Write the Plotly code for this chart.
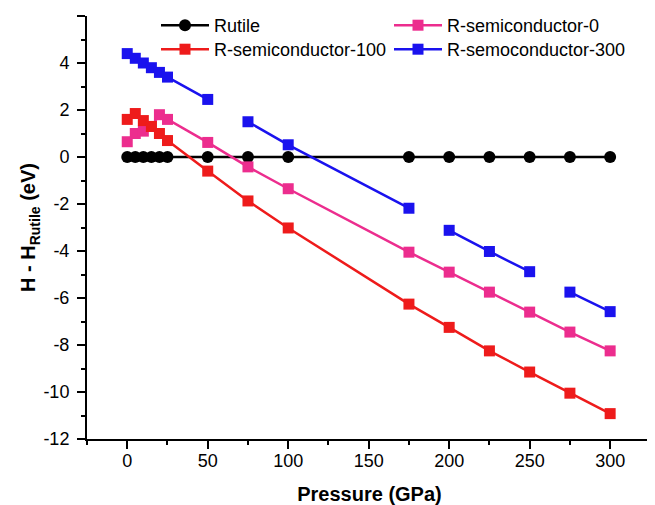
import plotly.graph_objects as go

pressure = [0, 5, 10, 15, 20, 25, 50, 75, 100, 175, 200, 225, 250, 275, 300]

rutile = [0] * 15
semi_0 = [0.65, 1.0, 1.1, 1.3, 1.8, 1.6, 0.62, -0.42, -1.35, -4.05, -4.9, -5.75, -6.6, -7.45, -8.25]
semi_100 = [1.6, 1.85, 1.55, 1.3, 1.0, 0.7, -0.6, -1.87, -3.02, -6.26, -7.25, -8.25, -9.15, -10.05, -10.92]
semo_300 = [4.4, 4.2, 4.0, 3.8, 3.6, 3.4, 2.45, 1.5, 0.52, -2.18, -3.12, -4.02, -4.88, -5.75, -6.58]
# indices after which the blue line is broken
semo_300_breaks = [6, 9, 12]

x_ticks = [0, 50, 100, 150, 200, 250, 300]
y_ticks = [6, 4, 2, 0, -2, -4, -6, -8, -10, -12]
y_tick_labels = [str(v) for v in y_ticks]

# figure offset by the page's 8px body margin
W, H = 647, 497
ML, MR, MT, MB = 79, 3, 8, 66
plot_w = W - ML - MR
plot_h = H - MT - MB

# legend slots: (window x of legend box, window y of row centre)
slots = {
    "legend": (156, 23),
    "legend2": (389, 23),
    "legend3": (156, 47),
    "legend4": (389, 47),
}

series = [
    ("Rutile", rutile, "#000000", "circle", 12, [], "legend"),
    ("R-semiconductor-0", semi_0, "#EC2D8E", "square", 11, [], "legend2"),
    ("R-semiconductor-100", semi_100, "#EE1B1B", "square", 11, [], "legend3"),
    ("R-semoconductor-300", semo_300, "#1A12EE", "square", 11, semo_300_breaks, "legend4"),
]

fig = go.Figure()
for name, ys, color, sym, size, breaks, leg in series:
    lx, ly = [], []
    for i, (xv, yv) in enumerate(zip(pressure, ys)):
        lx.append(xv)
        ly.append(yv)
        if i in breaks:
            lx.append(None)
            ly.append(None)
    fig.add_trace(go.Scatter(
        x=lx, y=ly, mode="lines", line=dict(color=color, width=2.5),
        showlegend=False, hoverinfo="skip", connectgaps=False))
    fig.add_trace(go.Scatter(
        x=pressure, y=ys, mode="markers", name=name,
        marker=dict(symbol=sym, size=size, color=color, line=dict(width=0)),
        showlegend=False))
    # legend entry with line + marker
    fig.add_trace(go.Scatter(
        x=[None], y=[None], mode="lines+markers", name=name, legend=leg,
        line=dict(color=color, width=2.5),
        marker=dict(symbol=sym, size=size, color=color, line=dict(width=0))))

legend_style = dict(orientation="h", xanchor="left", yanchor="top",
                    font=dict(size=18, color="black"), bgcolor="rgba(0,0,0,0)",
                    tracegroupgap=0, itemwidth=48)
legends = {}
for key, (wx, wy) in slots.items():
    fx = wx - 8
    fy = wy - 8
    legends[key] = dict(**legend_style,
                        x=(fx - ML) / plot_w,
                        y=(H - MB - (fy - 16)) / plot_h)

fig.update_layout(
    width=W, height=H,
    margin=dict(l=ML, r=MR, t=MT, b=MB, autoexpand=False),
    paper_bgcolor="white", plot_bgcolor="white",
    font=dict(family="Liberation Sans, Arial, sans-serif", size=18, color="black"),
    **legends,
    xaxis=dict(range=[-25, 326], tickvals=x_ticks, showgrid=False, zeroline=False,
               automargin=False,
               showline=True, linecolor="black", linewidth=2,
               ticks="outside", ticklen=8, tickwidth=2, tickcolor="black",
               ticklabelstandoff=-4,
               minor=dict(dtick=25, tick0=0, ticks="outside", ticklen=4, tickwidth=2, tickcolor="black"),
               title=dict(text="<b>Pressure (GPa)</b>", font=dict(size=20), standoff=20)),
    yaxis=dict(range=[-12, 6], tickvals=y_ticks, ticktext=y_tick_labels,
               showgrid=False, zeroline=False,
               automargin=False,
               showline=True, linecolor="black", linewidth=2,
               ticks="outside", ticklen=8, tickwidth=2, tickcolor="black",
               ticklabelstandoff=4,
               minor=dict(dtick=1, tick0=0, ticks="outside", ticklen=4, tickwidth=2, tickcolor="black"),
               title=dict(text="<b>H - H<sub>Rutile</sub> (eV)</b>", font=dict(size=20), standoff=2)),
)

fig.write_html("out.html")
